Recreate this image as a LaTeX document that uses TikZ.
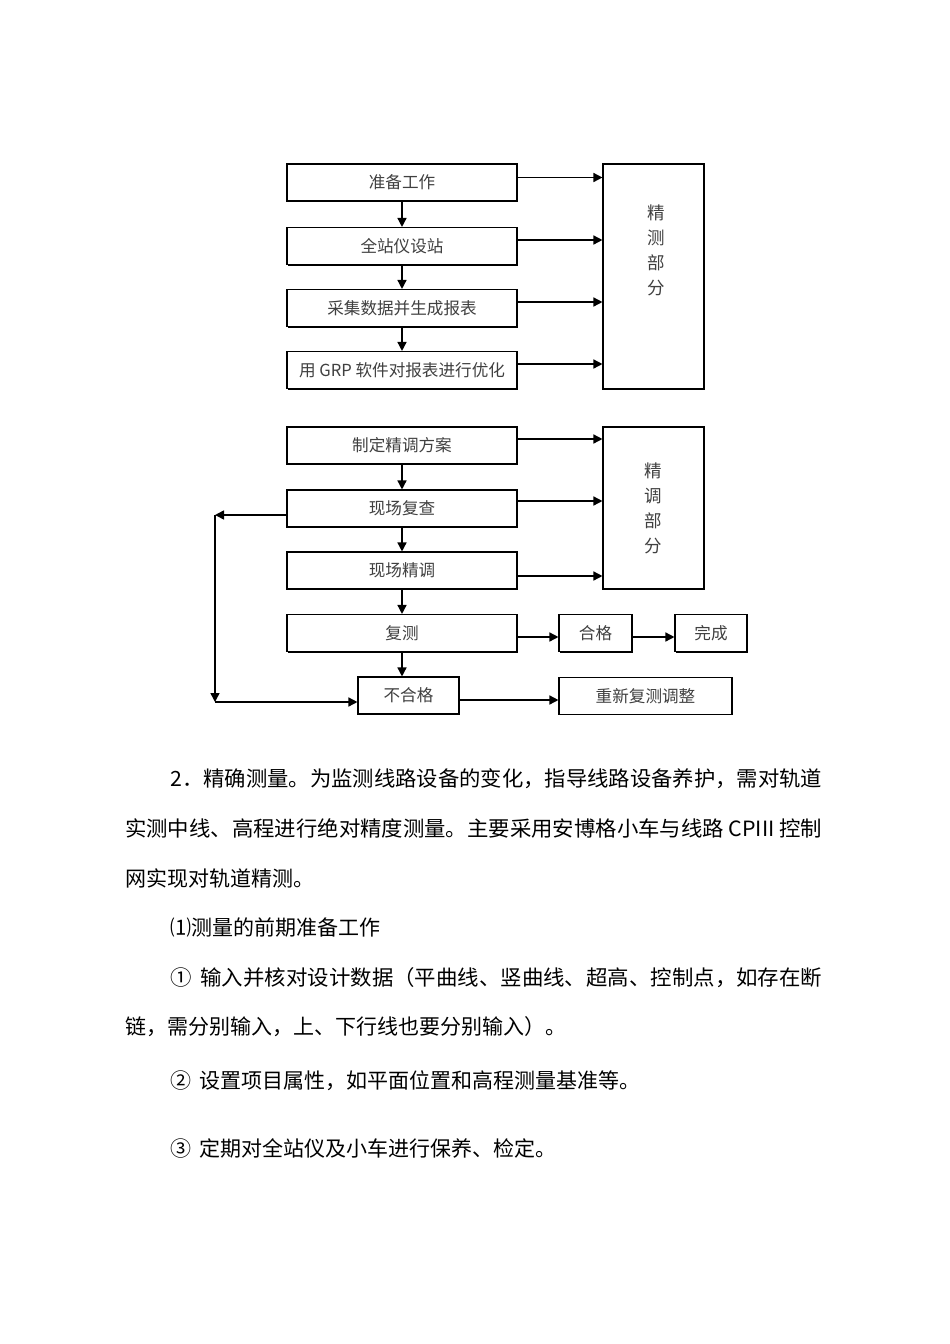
\documentclass[tikz,border=0pt]{standalone}
\usepackage{fontspec}
\usepackage{graphicx}
\newfontfamily\cjk{Noto Sans CJK SC}
\usetikzlibrary{arrows.meta,shadows}
\begin{document}
\begin{tikzpicture}[x=1pt,y=-1pt,
  box/.style={draw, line width=1.1pt, fill=white, inner sep=0pt, text=black!75,
    font=\cjk\fontsize{16.6}{18}\selectfont, minimum height=37pt},
  sbox/.style={box, drop shadow={shadow xshift=1.1pt, shadow yshift=-1.1pt, fill=black, opacity=1}},
  bigbox/.style={draw, line width=1.1pt, fill=white, inner sep=0pt},
  vtext/.style={inner sep=0pt, align=center, text=black!75, font=\cjk\fontsize{17.5}{25}\selectfont},
  arr/.style={line width=1.5pt, -{Triangle[length=9pt,width=9pt]}},
  para/.style={anchor=base west, inner sep=0pt, font=\cjk\fontsize{21}{21}\selectfont}
]
\useasboundingbox[fill=white] (0,0) rectangle (950,1344);

% ---------- top part ----------
\node[sbox, minimum width=230pt] (b1) at (402,182.5) {准备工作};
\node[sbox, minimum width=230pt] (b2) at (402,246) {全站仪设站};
\node[sbox, minimum width=230pt] (b3) at (402,308) {采集数据并生成报表};
\node[sbox, minimum width=230pt] (b4) at (402,370) {用 GRP 软件对报表进行优化};
\node[bigbox, minimum width=101pt, minimum height=225pt] (jc) at (653.5,276.5) {};
\node[vtext] (jct) at (656,250) {精\\测\\部\\分};

\draw[arr] (b1) -- (b2);
\draw[arr] (b2) -- (b3);
\draw[arr] (b3) -- (b4);
\draw[arr] ([yshift=5pt]b1.east) -- ([yshift=5pt]b1.east -| jc.west);
\draw[arr] ([yshift=6pt]b2.east) -- ([yshift=6pt]b2.east -| jc.west);
\draw[arr] ([yshift=6pt]b3.east) -- ([yshift=6pt]b3.east -| jc.west);
\draw[arr] ([yshift=6pt]b4.east) -- ([yshift=6pt]b4.east -| jc.west);

% ---------- bottom part ----------
\node[box, minimum width=230pt] (c1) at (402,445.5) {制定精调方案};
\node[sbox, minimum width=230pt] (c2) at (402,508.5) {现场复查};
\node[sbox, minimum width=230pt] (c3) at (402,570.5) {现场精调};
\node[sbox, minimum width=230pt] (c4) at (402,633) {复测};
\node[box, minimum width=101pt] (c5) at (408.5,695.5) {不合格};
\node[sbox, minimum width=73pt] (c6) at (595.5,633) {合格};
\node[sbox, minimum width=72pt] (c7) at (711,633) {完成};
\node[box, minimum width=173pt] (c8) at (645.5,696) {重新复测调整};
\node[bigbox, minimum width=101pt, minimum height=162pt] (jt) at (653.5,508) {};
\node[vtext] (jtt) at (653,508) {精\\调\\部\\分};

\draw[arr] (c1) -- (c2);
\draw[arr] (c2) -- (c3);
\draw[arr] (c3) -- (c4);
\draw[arr] (c4.south) -- (c4.south |- c5.north);
\draw[arr] ([yshift=6.5pt]c1.east) -- ([yshift=6.5pt]c1.east -| jt.west);
\draw[arr] ([yshift=7.5pt]c2.east) -- ([yshift=7.5pt]c2.east -| jt.west);
\draw[arr] ([yshift=-5.5pt]c3.east) -- ([yshift=-5.5pt]c3.east -| jt.west);
\draw[arr] ([yshift=-4pt]c4.east) -- ([yshift=-4pt]c4.east -| c6.west);
\draw[arr] ([yshift=-4pt]c6.east) -- ([yshift=-4pt]c6.east -| c7.west);
\draw[arr] ([yshift=-4.5pt]c5.east) -- ([yshift=-4.5pt]c5.east -| c8.west);

\coordinate (L1) at (215,515);
\coordinate (L2) at (215,702);
\draw[arr] ([yshift=-6.5pt]c2.west) -- (L1);
\draw[arr] (L1) -- (L2);
\draw[arr] (L2) -- (L2 -| c5.west);

% ---------- text ----------
\node[para] (p1) at (170,786) {\resizebox{652pt}{\height}{2．精确测量。为监测线路设备的变化，指导线路设备养护，需对轨道}};
\node[para] (p2) at (125,836) {\resizebox{697pt}{\height}{实测中线、高程进行绝对精度测量。主要采用安博格小车与线路 CPIII 控制}};
\node[para] (p3) at (125,886) {网实现对轨道精测。};
\node[para] (p4) at (170,935) {⑴测量的前期准备工作};
\node[para] (p5) at (170,985) {\resizebox{652pt}{\height}{①\hspace{4pt} 输入并核对设计数据（平曲线、竖曲线、超高、控制点，如存在断}};
\node[para] (p6) at (125,1034) {链，需分别输入，上、下行线也要分别输入）。};
\node[para] (p7) at (170,1088) {②\hspace{4pt} 设置项目属性，如平面位置和高程测量基准等。};
\node[para] (p8) at (170,1156) {③\hspace{4pt} 定期对全站仪及小车进行保养、检定。};
\end{tikzpicture}
\end{document}
